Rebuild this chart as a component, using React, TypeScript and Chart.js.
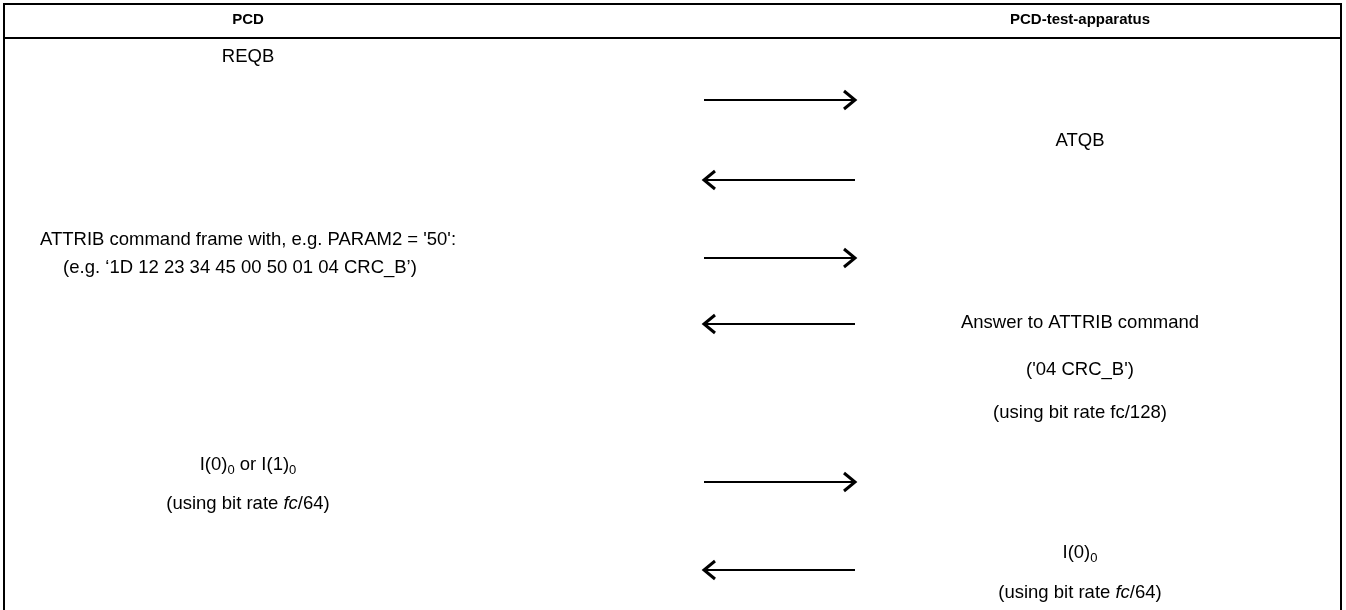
import React, { useEffect, useRef } from "react";
import { Chart, registerables } from "chart.js";

Chart.register(...registerables);

// ---- data ----
const W = 1346;
const H = 610;
// message arrows: row y (diagram units) and direction (1 = PCD -> apparatus, -1 = back)
const arrowY = [100, 180, 258, 324, 482, 570];
const arrowDir = [1, -1, 1, -1, 1, -1];
const arrowX0 = 704;
const arrowX1 = 855;

const headers = ["PCD", "PCD-test-apparatus"];
const headerX = [248, 1080];
const headerY = 20;

// label runs: "_{x}" subscript, "*x*" italic
const leftLabels = [
  "REQB",
  "ATTRIB command frame with, e.g. PARAM2 = '50':",
  "(e.g. \u20181D 12 23 34 45 00 50 01 04 CRC_B\u2019)",
  "I(0)_{0} or I(1)_{0}",
  "(using bit rate *fc*/64)",
];
const leftLabelX = [248, 248, 240, 248, 248];
const leftLabelY = [57, 240, 268, 465, 504];

const rightLabels = [
  "ATQB",
  "Answer to ATTRIB command",
  "('04 CRC_B')",
  "(using bit rate fc/128)",
  "I(0)_{0}",
  "(using bit rate *fc*/64)",
];
const rightLabelX = [1080, 1080, 1080, 1080, 1080, 1080];
const rightLabelY = [141, 323, 370, 413, 553, 593];

const frameLeft = 4;
const frameRight = 1341;
const frameTop = 4;
const frameHeaderLine = 38;
const frameBottom = 612;

const FONT = "'Liberation Sans', Arial, Helvetica, sans-serif";
const BODY = 18.5;
const HEAD = 15;

type Run = { t: string; k: "n" | "i" | "s" };
function parse(s: string): Run[] {
  const out: Run[] = [];
  let i = 0;
  let buf = "";
  const flush = () => {
    if (buf) out.push({ t: buf, k: "n" });
    buf = "";
  };
  while (i < s.length) {
    if (s.startsWith("_{", i)) {
      flush();
      const j = s.indexOf("}", i);
      out.push({ t: s.slice(i + 2, j), k: "s" });
      i = j + 1;
    } else if (s[i] === "*") {
      flush();
      const j = s.indexOf("*", i + 1);
      out.push({ t: s.slice(i + 1, j), k: "i" });
      i = j + 1;
    } else {
      buf += s[i];
      i++;
    }
  }
  flush();
  return out;
}

function fontFor(k: string, size: number, bold = false) {
  if (k === "s") return `${Math.round(size * 0.7)}px ${FONT}`;
  return `${k === "i" ? "italic " : ""}${bold ? "bold " : ""}${size}px ${FONT}`;
}

function drawRich(ctx: CanvasRenderingContext2D, s: string, cx: number, cy: number, size: number, bold = false) {
  const runs = parse(s);
  let total = 0;
  const widths = runs.map((r) => {
    ctx.font = fontFor(r.k, size, bold);
    const w = ctx.measureText(r.t).width;
    total += w;
    return w;
  });
  let x = cx - total / 2;
  ctx.textBaseline = "middle";
  ctx.textAlign = "left";
  ctx.fillStyle = "#000";
  runs.forEach((r, i) => {
    ctx.font = fontFor(r.k, size, bold);
    ctx.fillText(r.t, x, r.k === "s" ? cy + size * 0.28 : cy);
    x += widths[i];
  });
}

const textPlugin = {
  id: "seqText",
  afterDatasetsDraw(chart: any) {
    const { ctx, scales } = chart;
    const xs = scales.x;
    const ys = scales.y;
    ctx.save();
    headers.forEach((h, i) =>
      drawRich(ctx, h, xs.getPixelForValue(headerX[i]), ys.getPixelForValue(headerY), HEAD, true)
    );
    leftLabels.forEach((l, i) =>
      drawRich(ctx, l, xs.getPixelForValue(leftLabelX[i]), ys.getPixelForValue(leftLabelY[i]), BODY)
    );
    rightLabels.forEach((l, i) =>
      drawRich(ctx, l, xs.getPixelForValue(rightLabelX[i]), ys.getPixelForValue(rightLabelY[i]), BODY)
    );
    ctx.restore();
  },
};

function lineDs(points: { x: number; y: number }[], width = 2) {
  return {
    type: "line" as const,
    data: points,
    showLine: true,
    borderColor: "#000",
    borderWidth: width,
    pointRadius: 0,
    fill: false,
    tension: 0,
    borderCapStyle: "butt" as const,
    borderJoinStyle: "miter" as const,
  };
}

export default function App() {
  const ref = useRef<HTMLCanvasElement | null>(null);
  useEffect(() => {
    if (!ref.current) return;
    const datasets: any[] = [];
    // frame
    datasets.push(lineDs([{ x: frameLeft, y: frameBottom }, { x: frameLeft, y: frameTop }, { x: frameRight, y: frameTop }, { x: frameRight, y: frameBottom }]));
    datasets.push(lineDs([{ x: frameLeft, y: frameHeaderLine }, { x: frameRight, y: frameHeaderLine }]));
    // arrows
    arrowY.forEach((y, i) => {
      const d = arrowDir[i];
      const tip = d > 0 ? arrowX1 : arrowX0;
      datasets.push(lineDs([{ x: arrowX0, y }, { x: arrowX1 - (d > 0 ? 1 : 0), y }]));
      datasets.push(
        lineDs(
          [
            { x: tip - d * 11, y: y - 9 },
            { x: tip, y },
            { x: tip - d * 11, y: y + 9 },
          ],
          3
        )
      );
    });
    const chart = new Chart(ref.current, {
      type: "scatter",
      data: { datasets },
      options: {
        animation: false,
        responsive: false,
        maintainAspectRatio: false,
        layout: { padding: 0 },
        plugins: { legend: { display: false }, tooltip: { enabled: false } },
        scales: {
          x: { type: "linear", min: 0, max: W, display: false },
          y: { type: "linear", min: 0, max: H, reverse: true, display: false },
        },
        events: [],
      },
      plugins: [textPlugin],
    });
    return () => chart.destroy();
  }, []);
  return (
    <div style={{ position: "fixed", left: 0, top: 0, width: W, height: H, background: "#fff" }}>
      <canvas ref={ref} width={W} height={H} style={{ display: "block", width: W, height: H }} />
    </div>
  );
}
